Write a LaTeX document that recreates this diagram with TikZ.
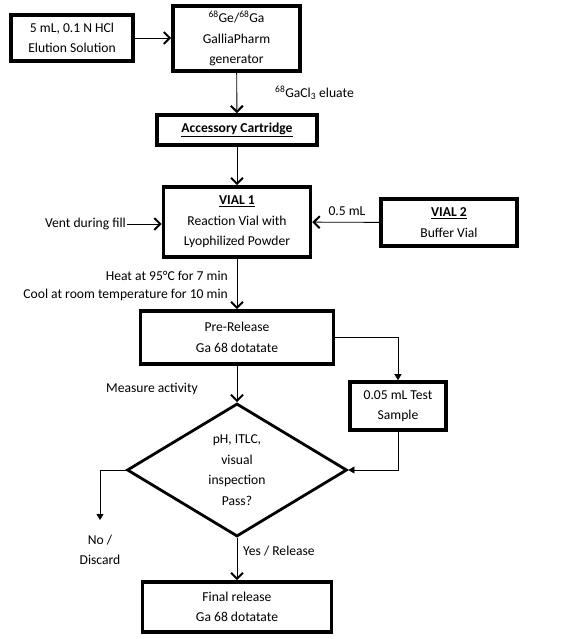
\documentclass[tikz,border=0pt]{standalone}
\usepackage{fontspec}
\setmainfont{Carlito}
\usetikzlibrary{arrows.meta,shapes.geometric}
\begin{document}
\begin{tikzpicture}[x=1pt,y=-1pt,font=\fontsize{13.6}{20.5}\selectfont,
  box/.style={draw,line width=3.6pt,align=center,inner sep=0pt},
  lbl/.style={align=center,inner sep=1pt},
  flow/.style={line width=0.9pt,-{Straight Barb[length=6pt,width=12pt,line width=2pt]}},
  side/.style={line width=0.8pt,-{Triangle[length=6pt,width=7pt]}}]
\useasboundingbox (0,0) rectangle (578,639);
% boxes
\node[box,minimum width=122,minimum height=46] (elu) at (72,38) {5 mL, 0.1 N HCl\\Elution Solution};
\node[box,minimum width=127,minimum height=65] (gen) at (236.5,38.5) {\textsuperscript{68}Ge/\textsuperscript{68}Ga\\GalliaPharm\\generator};
\node[box,minimum width=160,minimum height=30,font=\fontsize{13.6}{20}\selectfont\bfseries] (acc) at (237,130) {\underline{Accessory Cartridge}};
\node[box,minimum width=147,minimum height=70] (vial1) at (237,222) {\textbf{\underline{VIAL 1}}\\Reaction Vial with\\Lyophilized Powder};
\node[box,minimum width=136,minimum height=47] (vial2) at (449,222.5) {\textbf{\underline{VIAL 2}}\\Buffer Vial};
\node[box,minimum width=193,minimum height=53] (pre) at (237,337.5) {Pre-Release\\Ga 68 dotatate};
\node[box,minimum width=96,minimum height=48] (test) at (398,406) {0.05 mL Test\\Sample};
\node[draw,diamond,line width=2.8pt,align=center,inner sep=0pt,minimum width=220,minimum height=133] (qc) at (237,470) {pH, ITLC,\\visual\\inspection\\Pass?};
\node[box,minimum width=189,minimum height=50] (final) at (237,607) {Final release\\Ga 68 dotatate};
% labels
\node[lbl,anchor=west] (eluate) at (274,93) {\textsuperscript{68}GaCl\textsubscript{3} eluate};
\node[lbl,anchor=east] (vent) at (127,224) {Vent during fill};
\node[lbl] (half) at (347,211) {0.5 mL};
\node[lbl,anchor=east,align=right,font=\fontsize{13.6}{18}\selectfont] (heat) at (229,286) {Heat at 95°C for 7 min\\Cool at room temperature for 10 min};
\node[lbl] (meas) at (152,389) {Measure activity};
\node[lbl] (no) at (100,550) {No /\\Discard};
\node[lbl,anchor=west] (yes) at (242,551) {Yes / Release};
\coordinate (discard) at (100,520);
% connectors
\draw[flow] (elu.east) -- (elu.east -| gen.west);
\draw[flow] (gen) -- (acc);
\draw[flow] (acc) -- (vial1);
\draw[flow] (vent) -- (vent -| vial1.west);
\draw[flow] (vial2) -- (vial1);
\draw[flow] (vial1) -- (pre);
\draw[side] (pre.east) -| (test.north);
\draw[side] (test.south) |- (qc.east);
\draw[flow] (pre) -- (qc);
\draw[side] (qc.west) -| (discard);
\draw[flow] (qc) -- (final);
\end{tikzpicture}
\end{document}
